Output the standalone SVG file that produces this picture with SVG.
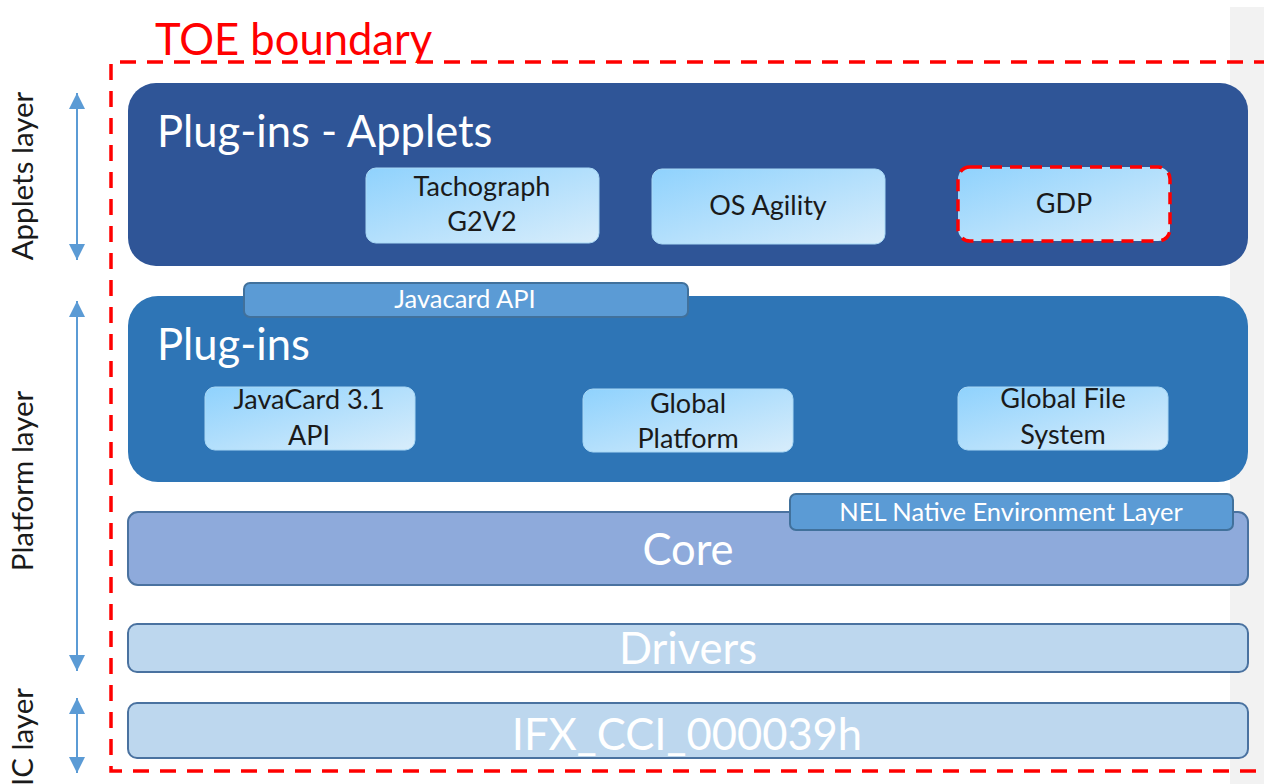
<svg xmlns="http://www.w3.org/2000/svg" width="1264" height="784" viewBox="0 0 1264 784">
<defs>
<linearGradient id="lg" x1="0" y1="0" x2="1" y2="1">
<stop offset="0" stop-color="#8fd2fd"/>
<stop offset="1" stop-color="#d8edfb"/>
</linearGradient>
<marker id="ah" viewBox="0 0 10 10" refX="10" refY="5" markerWidth="16" markerHeight="16" markerUnits="userSpaceOnUse" orient="auto-start-reverse">
<path d="M0,0 L10,5 L0,10 z" fill="#5b9bd5"/>
</marker>
<style>
text{font-family:Lato,"Open Sans","Liberation Sans",sans-serif}
.big{font-size:43.5px;fill:#ffffff}
.sm{font-size:27px;fill:#1a1a1a;text-anchor:middle}
.tab{font-size:25.5px;fill:#ffffff;text-anchor:middle}
.lay{font-size:29.5px;fill:#1a1a1a;text-anchor:middle}
.sub{fill:url(#lg);stroke:#a9d8f5;stroke-width:1}
.tabr{fill:#5b9bd5;stroke:#41719c;stroke-width:2}
.arr{stroke:#5b9bd5;stroke-width:2;fill:none;marker-start:url(#ah);marker-end:url(#ah)}
</style>
</defs>
<rect x="0" y="0" width="1264" height="784" fill="#ffffff"/>
<rect x="1230" y="7" width="34" height="777" fill="#f2f2f2"/>

<g id="applets">
<rect x="128" y="83" width="1120" height="183" rx="28" fill="#2f5597"/>
<text class="big" x="157" y="147">Plug-ins - Applets</text>
</g>
<g id="tachograph">
<rect class="sub" x="366" y="168" width="233" height="75" rx="10"/>
<text class="sm" x="482" y="196">Tachograph</text>
<text class="sm" x="482" y="231">G2V2</text>
</g>
<g id="osagility">
<rect class="sub" x="652" y="169" width="233" height="75" rx="10"/>
<text class="sm" x="768" y="215">OS Agility</text>
</g>
<g id="gdp">
<rect x="958" y="167" width="212" height="74" rx="12" fill="url(#lg)" stroke="#ff0000" stroke-width="3.5" stroke-dasharray="12,8"/>
<text class="sm" x="1064" y="213">GDP</text>
</g>

<g id="plugins">
<rect x="128" y="296" width="1120" height="186" rx="30" fill="#2e75b6"/>
<text class="big" x="157" y="360">Plug-ins</text>
</g>
<g id="javacardapi">
<rect class="tabr" x="244" y="283" width="444" height="34" rx="6"/>
<text class="tab" x="465" y="308">Javacard API</text>
</g>
<g id="javacard31">
<rect class="sub" x="205" y="387" width="210" height="63" rx="10"/>
<text class="sm" x="309" y="409">JavaCard 3.1</text>
<text class="sm" x="309" y="445">API</text>
</g>
<g id="globalplatform">
<rect class="sub" x="583" y="389" width="210" height="63" rx="10"/>
<text class="sm" x="688" y="413">Global</text>
<text class="sm" x="688" y="448">Platform</text>
</g>
<g id="gfs">
<rect class="sub" x="958" y="387" width="210" height="63" rx="10"/>
<text class="sm" x="1063" y="408">Global File</text>
<text class="sm" x="1063" y="444">System</text>
</g>

<g id="core">
<rect x="128" y="512" width="1120" height="73" rx="10" fill="#8eaadb" stroke="#4a72a0" stroke-width="2"/>
<text class="big" x="688" y="565" text-anchor="middle">Core</text>
</g>
<g id="nel">
<rect class="tabr" x="790" y="494" width="443" height="36" rx="6"/>
<text class="tab" x="1011" y="521">NEL Native Environment Layer</text>
</g>
<g id="drivers">
<rect x="128" y="624" width="1120" height="48" rx="9" fill="#bdd7ee" stroke="#4a72a0" stroke-width="2"/>
<text class="big" x="688" y="664" text-anchor="middle">Drivers</text>
</g>
<g id="ifx">
<rect x="128" y="703" width="1120" height="55" rx="9" fill="#bdd7ee" stroke="#4a72a0" stroke-width="2"/>
<text class="big" x="687" y="750" text-anchor="middle">IFX_CCI_000039h</text>
</g>

<g id="toe">
<path d="M1270,62 L111,62 L111,771 L1270,771" fill="none" stroke="#ff0000" stroke-width="3.5" stroke-dasharray="16,11"/>
<text x="155" y="55" style="font-size:43.5px;fill:#ff0000">TOE boundary</text>
</g>

<g id="connectors">
<line class="arr" x1="77" y1="93" x2="77" y2="260"/>
<line class="arr" x1="77" y1="301" x2="77" y2="671"/>
<line class="arr" x1="77" y1="698" x2="77" y2="773"/>
</g>

<g id="labels">
<text class="lay" transform="translate(33,176) rotate(-90)">Applets layer</text>
<text class="lay" transform="translate(33,481) rotate(-90)">Platform layer</text>
<text class="lay" transform="translate(33,737) rotate(-90)">IC layer</text>
</g>
</svg>
